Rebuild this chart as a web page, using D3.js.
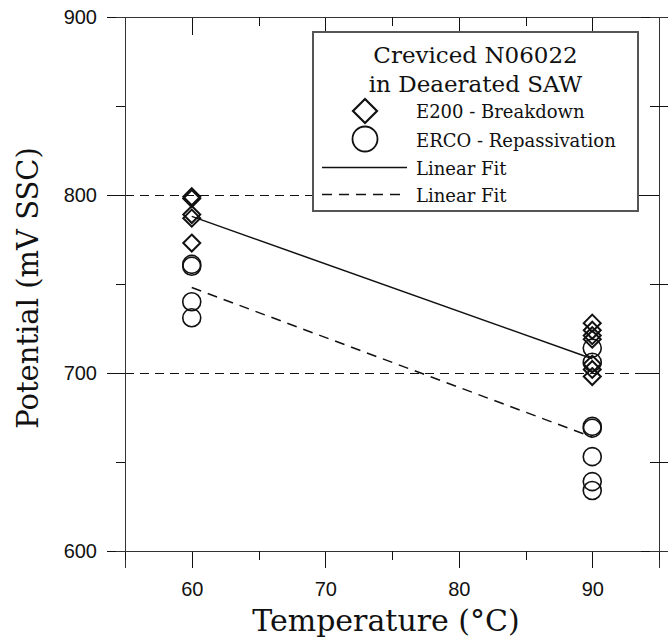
<!DOCTYPE html>
<html><head><meta charset="utf-8">
<script src="https://cdn.jsdelivr.net/npm/d3@7"></script>
<style>body{margin:0;background:#fff}</style>
</head><body>
<script>
// Data
const xMajorTicks = [60, 70, 80, 90];
const xMinorTicks = [55, 65, 75, 85, 95];
const yMajorTicks = [600, 700, 800, 900];
const yMinorTicks = [650, 750, 850];
const gridValues = [700, 800];

const e200Temp = [60, 60, 60, 60, 60, 90, 90, 90, 90, 90, 90, 90];
const e200Pot  = [799, 798, 789, 787, 773, 728, 724, 721, 719, 705, 702, 698];
const ercoTemp = [60, 60, 60, 60, 90, 90, 90, 90, 90, 90, 90];
const ercoPot  = [761, 760, 740, 731, 714, 706, 670, 669, 653, 639, 634];
const fitSolidTemp = [60, 90];
const fitSolidPot  = [788, 708];
const fitDashTemp  = [60, 90];
const fitDashPot   = [748, 664];

const legendTitle = ["Creviced N06022", "in Deaerated SAW"];
const legendLabels = ["E200 - Breakdown", "ERCO - Repassivation", "Linear Fit", "Linear Fit"];

const W = 670, H = 642;
const L = 125, R = 659, T = 17, B = 551;
const serif = "'DejaVu Serif', serif";
const sans = "'Liberation Sans', Arial, sans-serif";

const svg = d3.select("body").append("svg").attr("width", W).attr("height", H);
const x = d3.scaleLinear().domain([55, 95]).range([L, R]);
const y = d3.scaleLinear().domain([600, 900]).range([B, T]);

// gridlines
svg.append("g").selectAll("line").data(gridValues).join("line")
  .attr("x1", L).attr("x2", R).attr("y1", d => Math.round(y(d)) + 0.5).attr("y2", d => Math.round(y(d)) + 0.5)
  .attr("stroke", "#111").attr("stroke-width", 1).attr("stroke-dasharray", "9,6");

function styleAxis(g) {
  g.attr("shape-rendering", "crispEdges");
  g.select(".domain").attr("stroke", "#333").attr("stroke-width", 1.5);
  g.selectAll(".tick line").attr("stroke", "#111").attr("stroke-width", 1);
  g.selectAll("text").attr("font-family", sans).attr("font-size", 20).attr("fill", "#111");
}
function noLabels(g) { g.selectAll("text").remove(); }

// bottom
svg.append("g").attr("transform", `translate(0,${B})`)
  .call(d3.axisBottom(x).tickValues(xMajorTicks).tickSize(17).tickPadding(14).tickFormat(d3.format("d")))
  .call(styleAxis);
svg.append("g").attr("transform", `translate(0,${B})`)
  .call(d3.axisBottom(x).tickValues(xMinorTicks).tickSize(9).tickFormat(""))
  .call(styleAxis).call(noLabels);
// top (inward)
svg.append("g").attr("transform", `translate(0,${T})`)
  .call(d3.axisBottom(x).tickValues(xMajorTicks).tickSize(18).tickFormat(""))
  .call(styleAxis).call(noLabels);
svg.append("g").attr("transform", `translate(0,${T})`)
  .call(d3.axisBottom(x).tickValues(xMinorTicks).tickSize(9).tickFormat(""))
  .call(styleAxis).call(noLabels);
// left (outward)
svg.append("g").attr("transform", `translate(${L},0)`)
  .call(d3.axisLeft(y).tickValues(yMajorTicks).tickSize(18).tickPadding(10).tickFormat(d3.format("d")))
  .call(styleAxis);
svg.append("g").attr("transform", `translate(${L},0)`)
  .call(d3.axisLeft(y).tickValues(yMinorTicks).tickSize(9).tickFormat(""))
  .call(styleAxis).call(noLabels);
// right (major inward, minor crossing)
svg.append("g").attr("transform", `translate(${R},0)`)
  .call(d3.axisLeft(y).tickValues(yMajorTicks).tickSize(18).tickFormat(""))
  .call(styleAxis).call(noLabels);
svg.append("g").attr("transform", `translate(${R},0)`)
  .call(d3.axisLeft(y).tickValues(yMinorTicks).tickSize(9).tickFormat(""))
  .call(styleAxis).call(noLabels);
svg.append("g").attr("transform", `translate(${R},0)`)
  .call(d3.axisRight(y).tickValues(yMinorTicks).tickSize(9).tickFormat(""))
  .call(styleAxis).call(noLabels);

// axis titles
svg.append("text").attr("x", 386).attr("y", 631).attr("text-anchor", "middle")
  .attr("font-family", serif).attr("font-size", 30).attr("fill", "#111").text("Temperature (°C)");
svg.append("text").attr("transform", `translate(38,${(T + B) / 2 + 4}) rotate(-90)`).attr("text-anchor", "middle")
  .attr("font-family", serif).attr("font-size", 29).attr("fill", "#111").text("Potential (mV SSC)");

// fit lines
const line = d3.line().x(d => x(d[0])).y(d => y(d[1]));
svg.append("path").datum(d3.zip(fitSolidTemp, fitSolidPot)).attr("d", line)
  .attr("fill", "none").attr("stroke", "#111").attr("stroke-width", 1.5);
svg.append("path").datum(d3.zip(fitDashTemp, fitDashPot)).attr("d", line)
  .attr("fill", "none").attr("stroke", "#111").attr("stroke-width", 1.5).attr("stroke-dasharray", "10,7");

// markers
const diamond = s => `M0,${-s}L${s},0L0,${s}L${-s},0Z`;
svg.append("g").selectAll("path").data(d3.zip(e200Temp, e200Pot)).join("path")
  .attr("transform", d => `translate(${x(d[0])},${y(d[1])})`)
  .attr("d", diamond(8.5)).attr("fill", "none").attr("stroke", "#111").attr("stroke-width", 2);
svg.append("g").selectAll("circle").data(d3.zip(ercoTemp, ercoPot)).join("circle")
  .attr("cx", d => x(d[0])).attr("cy", d => y(d[1])).attr("r", 9)
  .attr("fill", "none").attr("stroke", "#111").attr("stroke-width", 1.6);

// legend
const lg = svg.append("g");
lg.append("rect").attr("x", 313).attr("y", 32).attr("width", 325).attr("height", 179)
  .attr("fill", "#fff").attr("stroke", "#555").attr("stroke-width", 1.5).attr("shape-rendering", "crispEdges");
lg.selectAll("text.t").data(legendTitle).join("text").attr("class", "t")
  .attr("x", 475.5).attr("y", (d, i) => 63 + i * 29).attr("text-anchor", "middle")
  .attr("font-family", serif).attr("font-size", 23).attr("fill", "#111").text(d => d);
const entryY = [118, 147, 175, 202];
lg.selectAll("text.e").data(legendLabels).join("text").attr("class", "e")
  .attr("x", 416).attr("y", (d, i) => entryY[i])
  .attr("font-family", serif).attr("font-size", 18).attr("fill", "#111").text(d => d);
lg.append("path").attr("transform", "translate(365,111)").attr("d", diamond(12))
  .attr("fill", "none").attr("stroke", "#111").attr("stroke-width", 2.2);
lg.append("circle").attr("cx", 365).attr("cy", 139).attr("r", 12.5)
  .attr("fill", "none").attr("stroke", "#111").attr("stroke-width", 1.8);
lg.append("line").attr("x1", 322).attr("x2", 407).attr("y1", 167.5).attr("y2", 167.5)
  .attr("stroke", "#111").attr("stroke-width", 1.5);
lg.append("line").attr("x1", 322).attr("x2", 407).attr("y1", 194.5).attr("y2", 194.5)
  .attr("stroke", "#111").attr("stroke-width", 1.5).attr("stroke-dasharray", "10,7");
</script>
</body></html>
